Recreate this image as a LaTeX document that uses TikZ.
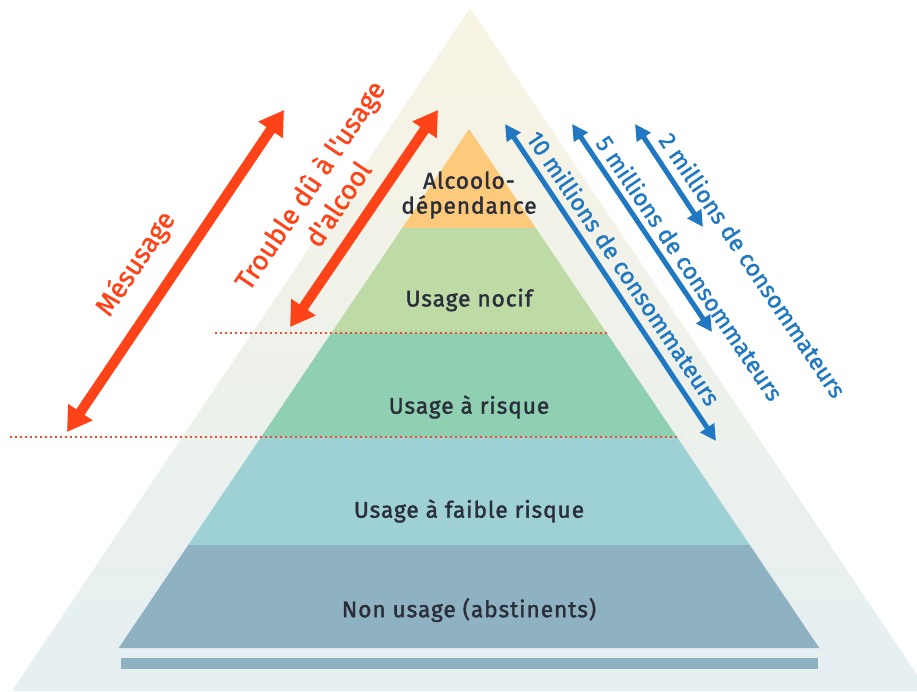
\documentclass[tikz,border=0pt]{standalone}
\usepackage{fontspec}
\setmainfont{Fira Sans}
\newfontfamily\layerfont{Fira Sans}[FakeBold=1.6, LetterSpace=4]
\newfontfamily\sidefont{Fira Sans}[FakeBold=1.3]
\usetikzlibrary{arrows.meta}
\definecolor{outerTop}{HTML}{F8F4E3}
\definecolor{outerMid}{HTML}{EDF5EC}
\definecolor{outerBot}{HTML}{E5EFF2}
\definecolor{cAlc}{HTML}{FDC97B}
\definecolor{cNocif}{HTML}{BFDBA5}
\definecolor{cRisque}{HTML}{8FD0B2}
\definecolor{cFaible}{HTML}{9DD1D6}
\definecolor{cNon}{HTML}{8FB2C2}
\definecolor{cRed}{HTML}{FF4319}
\definecolor{cDot}{HTML}{F04E30}
\definecolor{cBlue}{HTML}{1F78C1}
\definecolor{cText}{HTML}{2A2E3A}
\tikzset{
  layerlabel/.style={text=cText, font=\layerfont\fontsize{22.7}{25}\selectfont, inner sep=0pt},
  redtxt/.style={text=cRed, font=\sidefont\fontsize{27}{34}\selectfont, inner sep=0pt},
  bluetxt/.style={text=cBlue, font=\sidefont\fontsize{23.5}{28}\selectfont, inner sep=0pt},
  redarrow/.style={draw=cRed, line width=10pt, {Triangle[width=28pt,length=24pt]}-{Triangle[width=28pt,length=24pt]}},
  bluearrow/.style={draw=cBlue, line width=5pt, {Triangle[width=16pt,length=16pt]}-{Triangle[width=16pt,length=16pt]}},
  reddot/.style={draw=cDot, line width=2pt, dash pattern=on 2pt off 3pt},
}
\begin{document}
\begin{tikzpicture}[x=1pt,y=-1pt]
\useasboundingbox (0,0) rectangle (917,691);
% outer triangle
\begin{scope}
\clip (0,0) rectangle (917,691);
\shade[top color=outerTop, middle color=outerMid, bottom color=outerBot] (470,8) -- (12,691) -- (928,691) -- cycle;
\end{scope}
% layers
\fill[cAlc] (469,129) -- (535.8,228) -- (402.2,228) -- cycle;
\fill[cNocif] (402.2,228) -- (535.8,228) -- (606.7,333) -- (331.3,333) -- cycle;
\fill[cRisque] (331.3,333) -- (606.7,333) -- (676.9,437) -- (261.1,437) -- cycle;
\fill[cFaible] (261.1,437) -- (676.9,437) -- (749.8,545) -- (188.2,545) -- cycle;
\fill[cNon] (188.2,545) -- (749.8,545) -- (819.3,648) -- (118.7,648) -- cycle;
\fill[cNon] (121,658) rectangle (818,669);
% labels
\node[layerlabel, align=center] (alc) at (469,195) {Alcoolo-\\dépendance};
\node[layerlabel] (noc) at (469,300) {Usage nocif};
\node[layerlabel] (ris) at (469,407) {Usage à risque};
\node[layerlabel] (fai) at (469,511) {Usage à faible risque};
\node[layerlabel] (non) at (469,610) {Non usage (abstinents)};
% dotted lines
\coordinate (d1a) at (215,333); \coordinate (d1b) at (607,333);
\coordinate (d2a) at (10,437); \coordinate (d2b) at (680,437);
\draw[reddot] (d1a) -- (d1b);
\draw[reddot] (d2a) -- (d2b);
% red arrows
\coordinate (m1) at (67,432); \coordinate (m2) at (284,110);
\coordinate (t1) at (290,327); \coordinate (t2) at (438,110);
\draw[redarrow] (m1) -- (m2);
\draw[redarrow] (t1) -- (t2);
\node[redtxt, rotate=56] (mes) at (136,264) {Mésusage};
\node[redtxt, rotate=56, align=center] (trb) at (323,194) {Trouble dû à l'usage\\d'alcool};
% blue arrows
\coordinate (a1) at (505,124); \coordinate (a2) at (716,441);
\coordinate (b1) at (572,124); \coordinate (b2) at (712,332);
\coordinate (c1) at (635,124); \coordinate (c2) at (703,227);
\draw[bluearrow] (a1) -- (a2);
\draw[bluearrow] (b1) -- (b2);
\draw[bluearrow] (c1) -- (c2);
\node[bluetxt, rotate=-56] (t10) at (624,268) {10 millions de consommateurs};
\node[bluetxt, rotate=-56] (t5) at (690,268) {5 millions de consommateurs};
\node[bluetxt, rotate=-56] (t2m) at (753,265) {2 millions de consommateurs};
\end{tikzpicture}
\end{document}
